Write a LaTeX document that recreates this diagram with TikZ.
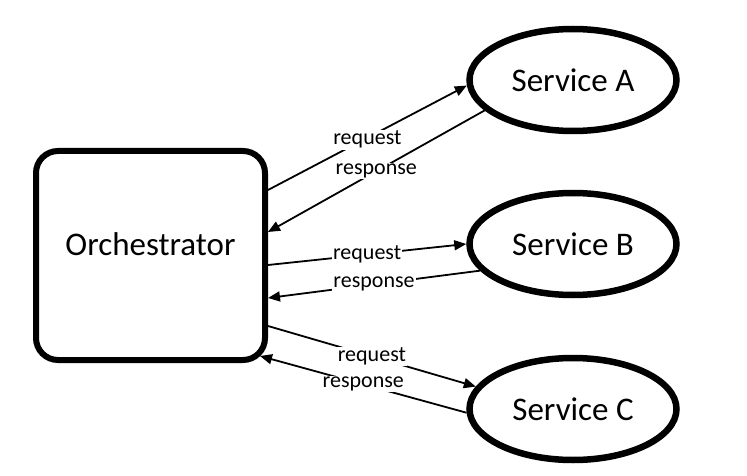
\documentclass[tikz,border=0pt]{standalone}
\usepackage{fontspec}
\setmainfont{Carlito}
\usetikzlibrary{arrows.meta,shapes.geometric}
\begin{document}
\begin{tikzpicture}[x=1pt,y=-1pt,
  orchbox/.style={draw=black, line width=6pt, rounded corners=22pt,
    minimum width=229pt, minimum height=209pt, inner sep=0pt,
    font=\fontsize{33}{40}\selectfont},
  service/.style={draw=black, ellipse, line width=6.5pt,
    minimum width=207pt, minimum height=102pt, inner sep=0pt,
    font=\fontsize{33}{40}\selectfont},
  conn/.style={line width=1.8pt, -{Triangle[length=12pt,width=10pt]}},
  lbl/.style={fill=white, inner sep=1pt, font=\fontsize{22}{26}\selectfont, midway}
]
\useasboundingbox (0,0) rectangle (747,476);
\fill[white] (0,0) rectangle (747,476);

\node[orchbox] (orch) at (150.5,255.5) {\raisebox{0pt}[0pt][0pt]{Orchestrator}};
\node[service] (sa) at (573,80) {Service A};
\node[service] (sb) at (573,244) {Service B};
\node[service] (sc) at (573,409) {Service C};

% Service A
\draw[conn] ([yshift=65.5pt]orch.east) -- (sa.183) node[lbl, yshift=-2pt] {request};
\draw[conn] (sa.199) -- ([yshift=23.5pt]orch.east) node[lbl] {response};
% Service B
\draw[conn] ([yshift=-9.5pt]orch.east) -- (sb.180) node[lbl] {request};
\draw[conn] (sb.196) -- ([yshift=-42.5pt]orch.east) node[lbl] {response};
% Service C
\draw[conn] ([yshift=-70.5pt]orch.east) -- (sc.167) node[lbl] {request};
\draw[conn] (sc.182) -- ([shift={(-8pt,7pt)}]orch.south east) node[lbl] {response};
\end{tikzpicture}
\end{document}
